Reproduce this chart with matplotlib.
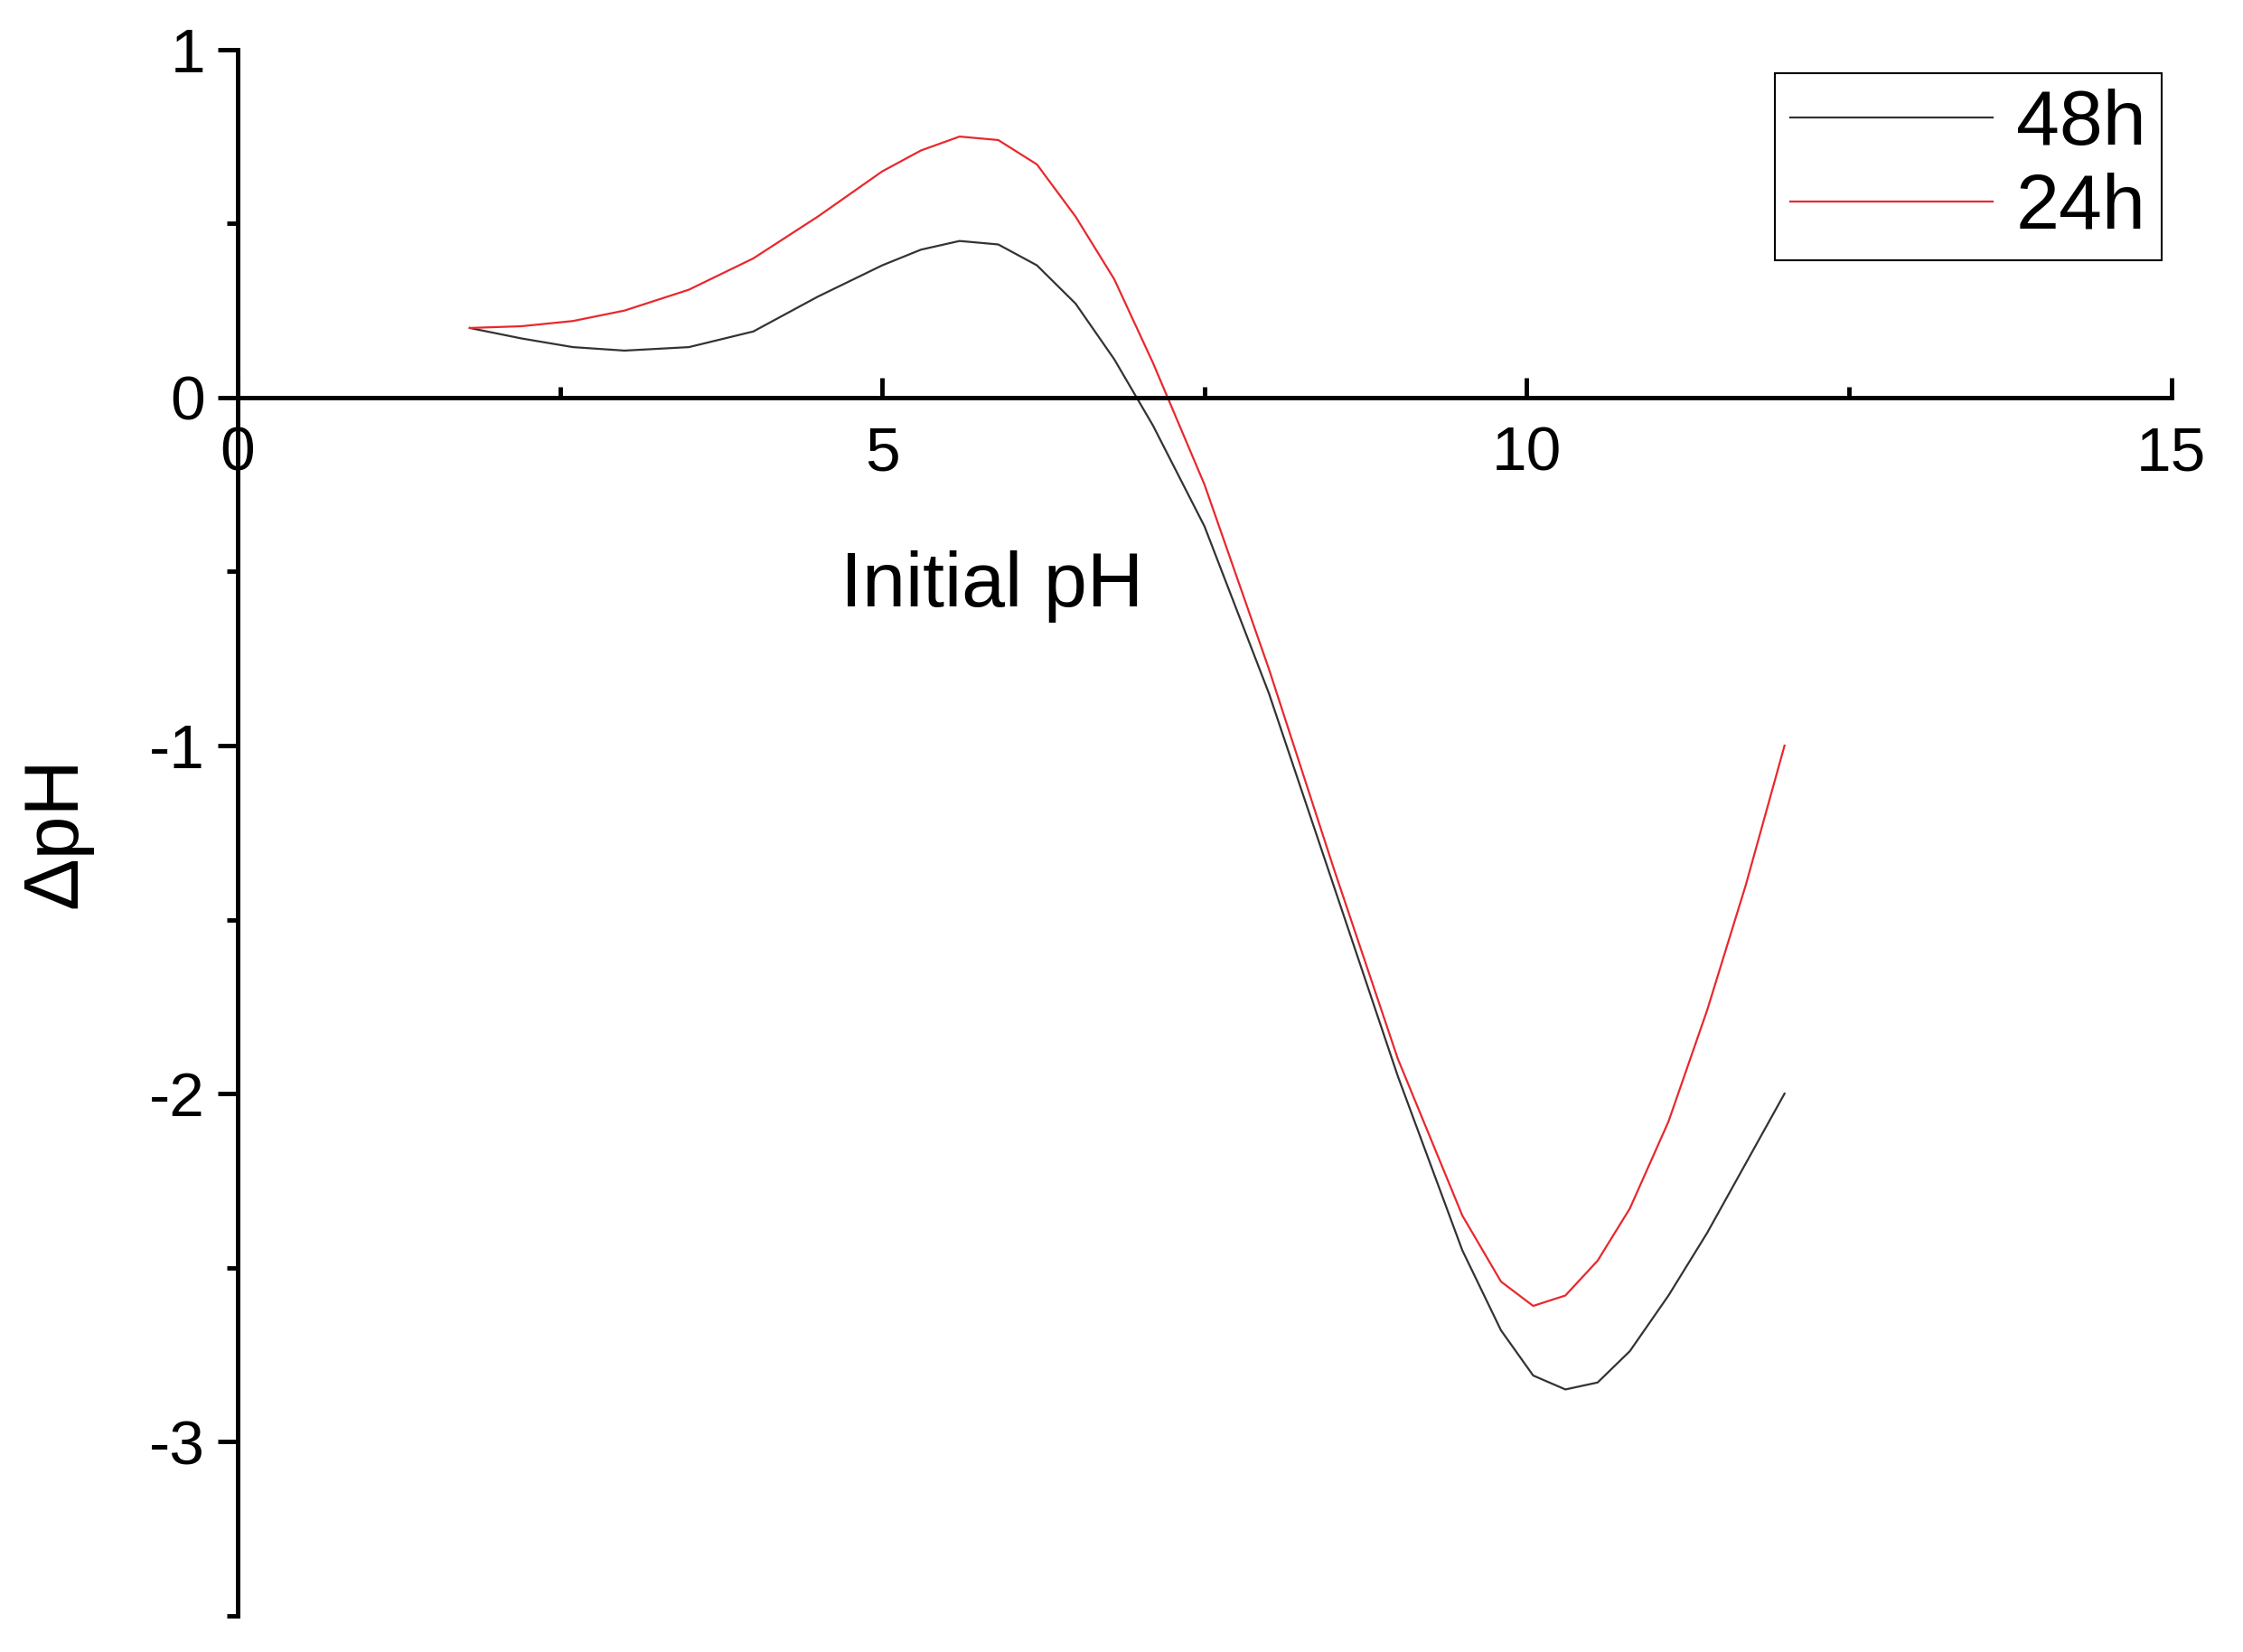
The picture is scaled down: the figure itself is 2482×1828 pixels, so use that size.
import matplotlib
matplotlib.use('Agg')
import matplotlib.pyplot as plt
from matplotlib.ticker import MultipleLocator

plt.rcParams['font.family'] = ['Arial', 'Liberation Sans', 'DejaVu Sans']

initial_ph = [1.8, 2.2, 2.6, 3.0, 3.5, 4.0, 4.5, 5.0, 5.3, 5.6, 5.9, 6.2, 6.5, 6.8,
              7.1, 7.5, 8.0, 8.5, 9.0, 9.5, 9.8, 10.05, 10.3, 10.55, 10.8, 11.1,
              11.4, 11.7, 12.0]
dph_48h = [0.20, 0.17, 0.145, 0.135, 0.145, 0.19, 0.29, 0.38, 0.425, 0.45, 0.44,
           0.38, 0.27, 0.11, -0.08, -0.37, -0.85, -1.40, -1.95, -2.45, -2.68,
           -2.81, -2.85, -2.83, -2.74, -2.58, -2.40, -2.20, -2.0]
dph_24h = [0.20, 0.205, 0.22, 0.25, 0.31, 0.40, 0.52, 0.65, 0.71, 0.75, 0.74,
           0.67, 0.52, 0.34, 0.10, -0.25, -0.78, -1.35, -1.90, -2.35, -2.54,
           -2.61, -2.58, -2.48, -2.33, -2.08, -1.76, -1.40, -1.0]

fig = plt.figure(figsize=(24.82, 18.28), dpi=100)
ax = fig.add_axes([0.106, 0.022, 0.862, 0.948])
ax.plot(initial_ph, dph_48h, color='#333333', lw=1.6, label='48h')
ax.plot(initial_ph, dph_24h, color='#e8282d', lw=1.6, label='24h')

ax.set_xlim(0, 15)
ax.set_ylim(-3.5, 1)
ax.spines['left'].set_position(('data', 0))
ax.spines['bottom'].set_position(('data', 0))
ax.spines['top'].set_visible(False)
ax.spines['right'].set_visible(False)
for s in ('left', 'bottom'):
    ax.spines[s].set_linewidth(3.5)

ax.xaxis.set_major_locator(MultipleLocator(5))
ax.xaxis.set_minor_locator(MultipleLocator(2.5))
ax.yaxis.set_major_locator(MultipleLocator(1))
ax.yaxis.set_minor_locator(MultipleLocator(0.5))
ax.tick_params(axis='x', which='both', direction='in', width=3.5, labelsize=50, pad=22)
ax.tick_params(axis='x', which='major', length=16)
ax.tick_params(axis='x', which='minor', length=9)
ax.tick_params(axis='y', which='both', direction='out', width=3.5, labelsize=50, pad=10)
ax.tick_params(axis='y', which='major', length=16)
ax.tick_params(axis='y', which='minor', length=9)
ax.yaxis.set_major_formatter(plt.FuncFormatter(lambda v, p: '%d' % v))

ax.set_xlabel('Initial pH', fontsize=62)
ax.xaxis.set_label_coords(0.39, 0.62)
ax.xaxis.label.set_verticalalignment('center')
ax.xaxis.set_label_coords(0.39, 0.657)
ax.set_ylabel('ΔpH', fontsize=62)
ax.yaxis.set_label_coords(-0.075, 0.5)

leg = ax.legend(loc='upper right', bbox_to_anchor=(1.007, 1.0), fontsize=62,
                handlelength=2.6, fancybox=False, framealpha=1, borderpad=0.2,
                handletextpad=0.3, labelspacing=0.15, borderaxespad=0.3)
leg.get_frame().set_edgecolor('black')
leg.get_frame().set_linewidth(1.5)

fig.savefig('out.png', dpi=100)
